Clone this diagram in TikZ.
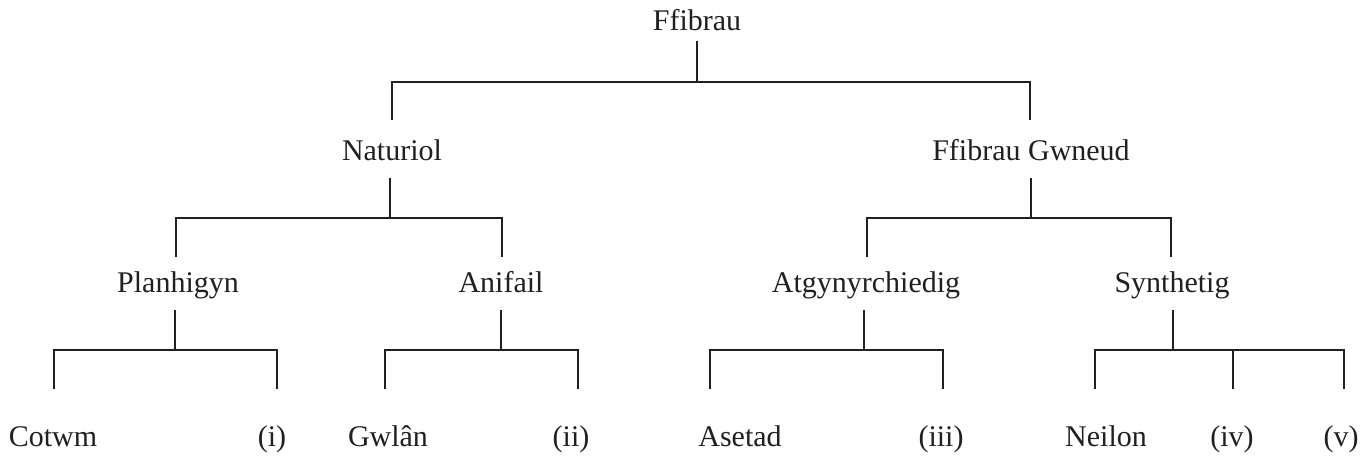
\documentclass[tikz,border=0pt]{standalone}
\usepackage{fontspec}
\setmainfont{Liberation Serif}
\definecolor{ink}{HTML}{231F20}
\begin{document}
\begin{tikzpicture}[x=0.5pt,y=-0.5pt,
  lbl/.style={inner sep=0pt,anchor=base,text=ink,font=\fontsize{15pt}{18pt}\selectfont},
  conn/.style={draw=ink,line width=1.2pt,line join=miter,line cap=butt}]
\useasboundingbox (0,0) rectangle (1370,457);
% nodes
\node[lbl] (root) at (697,30) {Ffibrau};
\node[lbl] (nat) at (392,160) {Naturiol};
\node[lbl] (ffg) at (1031,160) {Ffibrau Gwneud};
\node[lbl] (pla) at (178,292) {Planhigyn};
\node[lbl] (ani) at (501,292) {Anifail};
\node[lbl] (atg) at (866,292) {Atgynyrchiedig};
\node[lbl] (syn) at (1172,292) {Synthetig};
\node[lbl] (cot) at (53,446) {Cotwm};
\node[lbl] (li) at (272,446) {(i)};
\node[lbl] (gwl) at (388,446) {Gwlân};
\node[lbl] (lii) at (571,446) {(ii)};
\node[lbl] (ase) at (740,446) {Asetad};
\node[lbl] (liii) at (941,446) {(iii)};
\node[lbl] (nei) at (1106,446) {Neilon};
\node[lbl] (liv) at (1232,446) {(iv)};
\node[lbl] (lv) at (1341,446) {(v)};
% junctions and drop ends
\coordinate (jr) at (697,82);
\coordinate (tnat) at (392,120);
\coordinate (tffg) at (1030,120);
\coordinate (jnat) at (390,218);
\coordinate (jffg) at (1031,218);
\coordinate (tpla) at (176,257);
\coordinate (tani) at (502,257);
\coordinate (tatg) at (867,257);
\coordinate (tsyn) at (1171,257);
\coordinate (jpla) at (175,350);
\coordinate (jani) at (501,350);
\coordinate (jatg) at (864,350);
\coordinate (jsyn) at (1173,350);
\coordinate (tcot) at (54,389);
\coordinate (tli) at (277,389);
\coordinate (tgwl) at (385,389);
\coordinate (tlii) at (578,389);
\coordinate (tase) at (710,389);
\coordinate (tliii) at (943,389);
\coordinate (tnei) at (1095,389);
\coordinate (tliv) at (1233,389);
\coordinate (tlv) at (1344,389);
% root
\draw[conn] (root.base) ++(0,11) -- (jr);
\draw[conn] (tnat) |- (jr) -| (tffg);
% level 2
\draw[conn] (nat.base) ++(-2,18) -- (jnat);
\draw[conn] (tpla) |- (jnat) -| (tani);
\draw[conn] (ffg.base) ++(0,18) -- (jffg);
\draw[conn] (tatg) |- (jffg) -| (tsyn);
% level 3
\draw[conn] (pla.base) ++(-3,18) -- (jpla);
\draw[conn] (tcot) |- (jpla) -| (tli);
\draw[conn] (ani.base) ++(0,18) -- (jani);
\draw[conn] (tgwl) |- (jani) -| (tlii);
\draw[conn] (atg.base) ++(-2,18) -- (jatg);
\draw[conn] (tase) |- (jatg) -| (tliii);
\draw[conn] (syn.base) ++(1,18) -- (jsyn);
\draw[conn] (tnei) |- (jsyn) -| (tlv);
\draw[conn] (tliv) -- (tliv |- jsyn);
\end{tikzpicture}
\end{document}
